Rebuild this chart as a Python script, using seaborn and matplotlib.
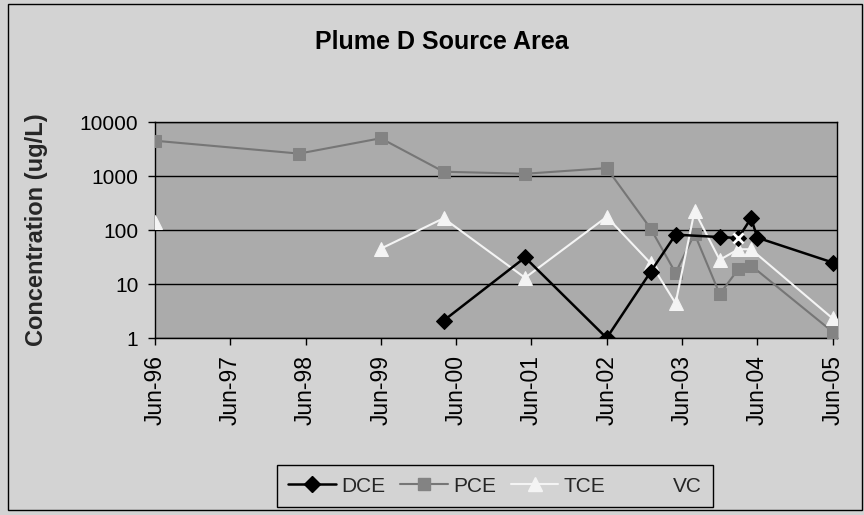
import matplotlib
matplotlib.use("Agg")
import matplotlib.pyplot as plt
import matplotlib.dates as mdates
from matplotlib.lines import Line2D
from matplotlib.patches import Rectangle
import seaborn as sns
import pandas as pd

# ---- data ----
dce_dates = ["2000-04-01", "2001-05-01", "2002-06-01", "2003-01-01", "2003-05-01",
             "2003-12-01", "2004-03-01", "2004-05-01", "2004-06-01", "2005-06-01"]
dce_vals = [2.1, 31, 1.0, 17, 82, 74, 71, 166, 72, 25]

pce_dates = ["1996-06-01", "1998-05-01", "1999-06-01", "2000-04-01", "2001-05-01",
             "2002-06-01", "2003-01-01", "2003-05-01", "2003-08-01", "2003-12-01",
             "2004-03-01", "2004-05-01", "2005-06-01"]
pce_vals = [4500, 2600, 5000, 1200, 1100, 1400, 105, 16, 85, 6.5, 19, 22, 1.3]

# TCE has no value for May-98, so the line breaks after Jun-96
tce_dates = ["1996-06-01", "1999-06-01", "2000-04-01", "2001-05-01", "2002-06-01",
             "2003-01-01", "2003-05-01", "2003-08-01", "2003-12-01", "2004-03-01",
             "2004-05-01", "2005-06-01"]
tce_vals = [140, 45, 165, 13, 175, 24, 4.4, 225, 28, 44, 44, 2.3]
tce_segment = [0, 1, 1, 1, 1, 1, 1, 1, 1, 1, 1, 1]

vc_dates = ["2004-03-01"]
vc_vals = [71]

series_names = ["DCE", "PCE", "TCE", "VC"]
y_ticks = [1, 10, 100, 1000, 10000]
title = "Plume D Source Area"
y_label = "Concentration (ug/L)"

# ---- style ----
sns.set_theme(style="white")
plt.rcParams["font.family"] = ["Liberation Sans", "DejaVu Sans"]

fig_bg = "#d3d3d3"
ax_bg = "#ababab"

fig = plt.figure(figsize=(8.64, 5.15), dpi=100, facecolor=fig_bg)
ax = fig.add_axes([155 / 864, 1 - 338 / 515, (837 - 155) / 864, (338 - 122) / 515])
ax.set_facecolor(ax_bg)

def frame(dates, vals):
    return pd.DataFrame({"date": pd.to_datetime(dates), "value": vals})

d_dce = frame(dce_dates, dce_vals)
d_pce = frame(pce_dates, pce_vals)
d_tce = frame(tce_dates, tce_vals)
d_tce["seg"] = tce_segment
d_vc = frame(vc_dates, vc_vals)

sns.lineplot(data=d_pce, x="date", y="value", ax=ax, color="#767676", lw=1.5,
             marker="s", markersize=8, markerfacecolor="#838383",
             markeredgecolor="#838383", zorder=3)
sns.lineplot(data=d_tce, x="date", y="value", units="seg", estimator=None, ax=ax,
             color="#f4f4f4", lw=1.5, marker="^", markersize=10,
             markerfacecolor="#f4f4f4", markeredgecolor="#f4f4f4", zorder=4)
sns.lineplot(data=d_dce, x="date", y="value", ax=ax, color="black", lw=1.8,
             marker="D", markersize=8, markerfacecolor="black",
             markeredgecolor="black", zorder=5)
sns.lineplot(data=d_vc, x="date", y="value", ax=ax, color="#e6e6e6", lw=1.5,
             marker="x", markersize=7, markeredgewidth=2, zorder=6)

ax.set_yscale("log")
ax.set_ylim(1, 10000)
ax.set_yticks(y_ticks)
ax.set_yticklabels([str(v) for v in y_ticks])
ax.yaxis.set_minor_locator(matplotlib.ticker.NullLocator())
ax.set_xlim(pd.Timestamp("1996-06-01"), pd.Timestamp("2005-06-22"))
ax.xaxis.set_major_locator(mdates.MonthLocator(bymonth=6, bymonthday=1))
ax.xaxis.set_major_formatter(mdates.DateFormatter("%b-%y"))
ax.tick_params(axis="x", labelrotation=90, labelsize=16.5, length=5, width=1,
               direction="out", colors="black", bottom=True, pad=7)
ax.tick_params(axis="y", labelsize=15, length=5, width=1, direction="out",
               colors="black", left=True, pad=7)
ax.grid(axis="y", color="black", lw=1)
ax.grid(axis="x", visible=False)
ax.set_axisbelow(True)
for s in ax.spines.values():
    s.set_visible(True)
    s.set_color("black")
    s.set_linewidth(1)

ax.set_xlabel("")
ax.set_ylabel(y_label, fontsize=17, fontweight="bold")
ax.yaxis.set_label_coords((48 - 155) / 682, 0.5)

fig.text(442 / 864, 1 - 42 / 515, title, ha="center", va="center",
         fontsize=18, fontweight="bold", color="black")

handles = [
    Line2D([], [], color="black", lw=1.8, marker="D", markersize=8),
    Line2D([], [], color="#767676", lw=1.5, marker="s", markersize=8,
           markerfacecolor="#838383", markeredgecolor="#838383"),
    Line2D([], [], color="#f4f4f4", lw=1.5, marker="^", markersize=10,
           markerfacecolor="#f4f4f4", markeredgecolor="#f4f4f4"),
    Line2D([], [], color=fig_bg, lw=1.5, alpha=0),
]
leg = fig.legend(handles, series_names, loc="center",
                 bbox_to_anchor=(495 / 864, 1 - 486 / 515), ncol=4,
                 fontsize=15, frameon=True, fancybox=False, edgecolor="black",
                 facecolor=fig_bg, framealpha=1, handlelength=2.3,
                 handletextpad=0.25, columnspacing=0.7, borderpad=0.55)
leg.get_frame().set_linewidth(1)

fig.patches.append(Rectangle((8 / 864, 1 - 510 / 515), (862 - 8) / 864, (510 - 4) / 515,
                             transform=fig.transFigure, fill=False,
                             edgecolor="black", lw=1))

fig.savefig("out.png", dpi=100, facecolor=fig_bg)
